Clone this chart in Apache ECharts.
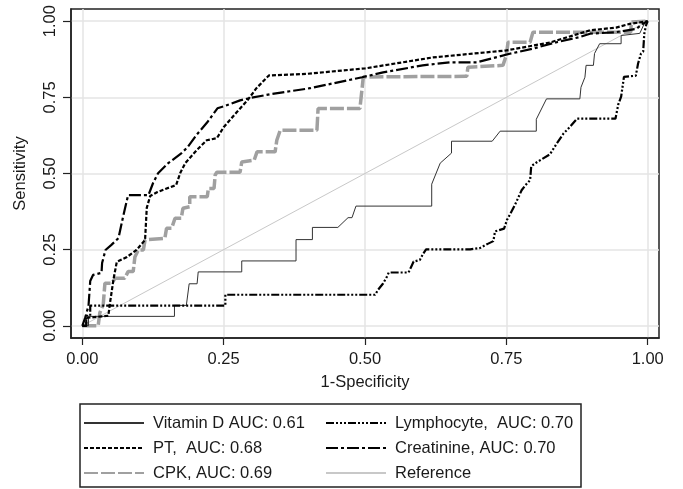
<!DOCTYPE html>
<html><head><meta charset="utf-8">
<script src="https://cdn.jsdelivr.net/npm/echarts@6/dist/echarts.min.js"></script>
<style>html,body{margin:0;padding:0;background:#fff}#c{width:683px;height:489px}</style>
</head><body><div id="c"></div>
<script>
const tickValues = [0, 0.25, 0.5, 0.75, 1];
const seriesNames = ['Vitamin D AUC: 0.61', 'PT,  AUC: 0.68', 'CPK, AUC: 0.69', 'Lymphocyte,  AUC: 0.70', 'Creatinine, AUC: 0.70', 'Reference'];

const vitaminD = [[0,0],[0.011,0],[0.011,0.031],[0.163,0.031],[0.163,0.067],[0.184,0.067],[0.189,0.138],[0.203,0.138],[0.205,0.177],[0.282,0.177],[0.282,0.213],[0.378,0.213],[0.378,0.283],[0.407,0.283],[0.407,0.323],[0.452,0.323],[0.470,0.355],[0.477,0.355],[0.484,0.393],[0.618,0.393],[0.618,0.465],[0.633,0.534],[0.653,0.567],[0.653,0.606],[0.725,0.606],[0.739,0.639],[0.803,0.639],[0.803,0.678],[0.821,0.745],[0.880,0.745],[0.882,0.783],[0.889,0.816],[0.891,0.855],[0.904,0.855],[0.906,0.894],[0.915,0.926],[0.953,0.926],[0.953,0.953],[0.986,0.960],[0.995,0.996],[1,1]];

const lymphocyte = [[0,0],[0.007,0],[0.007,0.033],[0.014,0.033],[0.014,0.066],[0.253,0.066],[0.253,0.102],[0.518,0.102],[0.523,0.118],[0.532,0.139],[0.539,0.162],[0.542,0.175],[0.577,0.175],[0.582,0.195],[0.586,0.211],[0.597,0.216],[0.603,0.237],[0.608,0.251],[0.686,0.251],[0.703,0.255],[0.717,0.269],[0.727,0.278],[0.730,0.310],[0.746,0.319],[0.751,0.347],[0.765,0.396],[0.777,0.445],[0.784,0.462],[0.792,0.478],[0.794,0.524],[0.804,0.537],[0.827,0.563],[0.839,0.598],[0.851,0.631],[0.862,0.652],[0.875,0.680],[0.943,0.680],[0.948,0.727],[0.953,0.752],[0.958,0.817],[0.979,0.821],[0.983,0.861],[0.988,0.893],[0.992,0.900],[0.994,0.959],[0.997,0.986],[1,1]];

const pt = [[0,0],[0.007,0],[0.007,0.026],[0.046,0.033],[0.049,0.075],[0.055,0.151],[0.061,0.210],[0.079,0.226],[0.096,0.249],[0.111,0.282],[0.114,0.387],[0.120,0.426],[0.133,0.439],[0.148,0.450],[0.166,0.462],[0.173,0.501],[0.182,0.534],[0.202,0.576],[0.220,0.609],[0.238,0.616],[0.250,0.652],[0.273,0.701],[0.292,0.740],[0.308,0.780],[0.330,0.822],[0.397,0.827],[0.500,0.845],[0.620,0.881],[0.750,0.904],[0.827,0.930],[0.898,0.970],[0.944,0.979],[0.968,0.991],[1,1]];

const creatinine = [[0,0],[0.005,0.026],[0.011,0.066],[0.014,0.066],[0.014,0.147],[0.019,0.167],[0.034,0.174],[0.035,0.206],[0.041,0.249],[0.051,0.265],[0.064,0.288],[0.072,0.357],[0.081,0.429],[0.117,0.429],[0.125,0.468],[0.134,0.501],[0.152,0.534],[0.175,0.566],[0.186,0.586],[0.203,0.629],[0.221,0.668],[0.239,0.714],[0.251,0.721],[0.279,0.740],[0.297,0.748],[0.332,0.760],[0.367,0.770],[0.403,0.780],[0.495,0.816],[0.532,0.832],[0.602,0.855],[0.650,0.865],[0.698,0.865],[0.756,0.893],[0.797,0.910],[0.839,0.931],[0.880,0.948],[0.898,0.959],[0.944,0.964],[0.980,0.975],[0.991,0.991],[1,1]];

const cpk = [[0,0],[0.028,0],[0.031,0.043],[0.037,0.069],[0.040,0.140],[0.052,0.140],[0.058,0.156],[0.075,0.156],[0.081,0.178],[0.090,0.178],[0.093,0.226],[0.099,0.249],[0.108,0.249],[0.111,0.282],[0.146,0.287],[0.149,0.320],[0.158,0.320],[0.164,0.353],[0.175,0.353],[0.178,0.386],[0.190,0.391],[0.190,0.424],[0.221,0.424],[0.223,0.451],[0.233,0.451],[0.235,0.495],[0.238,0.504],[0.279,0.504],[0.282,0.538],[0.304,0.544],[0.309,0.571],[0.341,0.571],[0.344,0.609],[0.350,0.642],[0.415,0.642],[0.417,0.713],[0.491,0.713],[0.497,0.817],[0.680,0.819],[0.682,0.849],[0.744,0.855],[0.750,0.888],[0.753,0.931],[0.792,0.931],[0.797,0.964],[0.970,0.964],[0.971,0.997],[1,1]];

const reference = [[0,0],[1,1]];

const FONT = "'Liberation Sans', Arial, sans-serif";
const FS = 16.5;
const TXT = '#1a1a1a';

const chart = echarts.init(document.getElementById('c'), null, {renderer: 'canvas'});
const legendBase = {
  orient: 'vertical', top: 413, height: 90, padding: 0,
  itemWidth: 60, itemHeight: 20, itemGap: 5,
  itemStyle: {opacity: 0},
  textStyle: {fontSize: FS, fontFamily: FONT, color: TXT, lineHeight: 20, padding: [0, 0, 0, 4]},
  selectedMode: false
};
function lineSeries(name, data, color, width, type, z) {
  return {name: name, type: 'line', data: data, symbol: 'none', showSymbol: false,
    itemStyle: {color: color}, lineStyle: {color: color, width: width, type: type}, z: z};
}
chart.setOption({
  animation: false,
  backgroundColor: '#fff',
  grid: {left: 71, top: 9, width: 588, height: 329, show: true, borderColor: '#222', borderWidth: 1.5, backgroundColor: '#fff'},
  legend: [
    Object.assign({}, legendBase, {left: 83, data: [seriesNames[0], seriesNames[1], seriesNames[2]]}),
    Object.assign({}, legendBase, {left: 325, data: [seriesNames[3], seriesNames[4], seriesNames[5]]})
  ],
  graphic: [{type: 'rect', shape: {x: 80, y: 404, width: 501, height: 83}, style: {fill: 'none', stroke: '#222', lineWidth: 1.5}, z: 100}],
  xAxis: {
    type: 'value', min: -0.02, max: 1.02,
    name: '1-Specificity', nameLocation: 'middle', nameGap: 36,
    nameTextStyle: {fontSize: FS, fontFamily: FONT, color: TXT},
    axisLine: {show: true, onZero: false, lineStyle: {color: '#222', width: 1.5}},
    axisTick: {show: true, length: 7, customValues: tickValues, lineStyle: {color: '#222', width: 1.2}},
    axisLabel: {customValues: tickValues, formatter: v => v.toFixed(2), margin: 13, fontSize: FS, fontFamily: FONT, color: TXT},
    splitLine: {show: true, lineStyle: {color: '#e4e4e4', width: 1.5}}
  },
  yAxis: {
    type: 'value', min: -0.04, max: 1.04,
    name: 'Sensitivity', nameLocation: 'middle', nameGap: 42,
    nameTextStyle: {fontSize: FS, fontFamily: FONT, color: TXT},
    axisLine: {show: true, onZero: false, lineStyle: {color: '#222', width: 1.5}},
    axisTick: {show: true, length: 8, customValues: tickValues, lineStyle: {color: '#222', width: 1.2}},
    axisLabel: {customValues: tickValues, formatter: v => v.toFixed(2), rotate: 90, margin: 12, fontSize: FS, fontFamily: FONT, color: TXT},
    splitLine: {show: true, lineStyle: {color: '#e4e4e4', width: 1.5}}
  },
  series: [
    lineSeries(seriesNames[5], reference, '#c8c8c8', 1, 'solid', 1),
    lineSeries(seriesNames[2], cpk, '#a0a0a0', 3.5, [14, 3], 2),
    lineSeries(seriesNames[0], vitaminD, '#333333', 1, 'solid', 3),
    lineSeries(seriesNames[3], lymphocyte, '#000000', 2.2, [8, 2, 2, 2, 2, 2, 2, 2], 3),
    lineSeries(seriesNames[1], pt, '#000000', 2.2, [4, 2], 3),
    lineSeries(seriesNames[4], creatinine, '#000000', 2.2, [12, 3, 3, 3], 3)
  ]
});
</script></body></html>
